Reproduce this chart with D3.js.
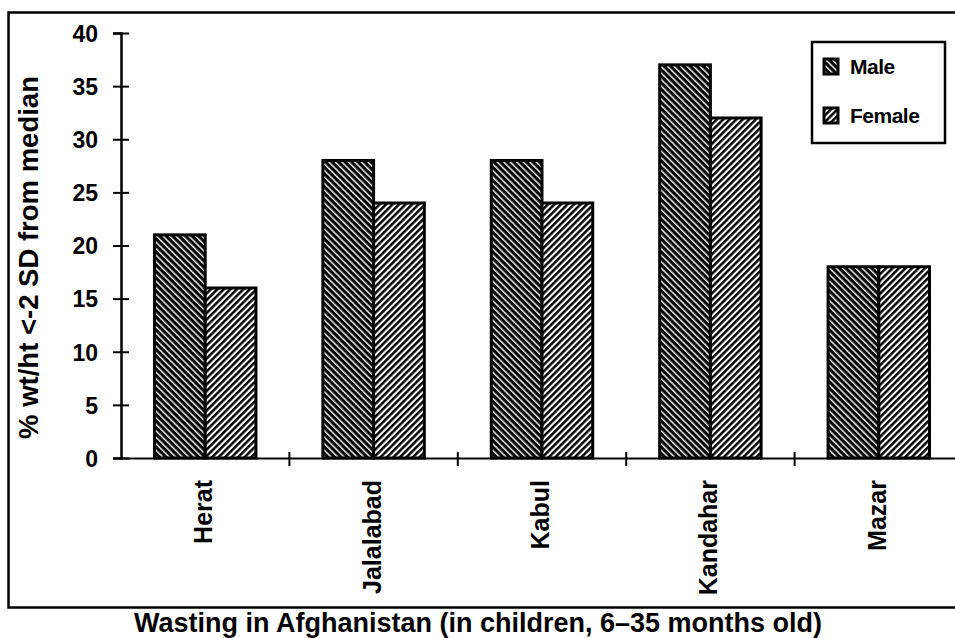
<!DOCTYPE html>
<html>
<head>
<meta charset="utf-8">
<script src="https://cdnjs.cloudflare.com/ajax/libs/d3/7.8.5/d3.min.js"></script>
<style>
  body { margin: 0; background: #fff; }
  svg text { font-family: "Liberation Sans", Arial, sans-serif; font-weight: bold; fill: #000; }
</style>
</head>
<body>
<script>
// Data
var cities = ["Herat", "Jalalabad", "Kabul", "Kandahar", "Mazar"];
var male = [21, 28, 28, 37, 18];
var female = [16, 24, 24, 32, 18];
var seriesNames = ["Male", "Female"];
var yTicks = [0, 5, 10, 15, 20, 25, 30, 35, 40];

var svgWidth = 955;
var svgHeight = 638;

var svg = d3.select("body")
  .append("svg")
  .attr("width", svgWidth)
  .attr("height", svgHeight);

// Hatch patterns: male = dark with white "\" lines, female = white with black "/" lines
var defs = svg.append("defs");
var pMale = defs.append("pattern")
  .attr("id", "hatchMale")
  .attr("patternUnits", "userSpaceOnUse")
  .attr("width", 4.6).attr("height", 4.6)
  .attr("patternTransform", "rotate(-45)");
pMale.append("rect").attr("width", 4.6).attr("height", 4.6).attr("fill", "#000");
pMale.append("rect").attr("x", 0).attr("width", 1.4).attr("height", 4.6).attr("fill", "#fff");

var pFemale = defs.append("pattern")
  .attr("id", "hatchFemale")
  .attr("patternUnits", "userSpaceOnUse")
  .attr("width", 4.6).attr("height", 4.6)
  .attr("patternTransform", "rotate(45)");
pFemale.append("rect").attr("width", 4.6).attr("height", 4.6).attr("fill", "#fff");
pFemale.append("rect").attr("x", 0).attr("width", 2.5).attr("height", 4.6).attr("fill", "#000");

// Outer frame
svg.append("rect")
  .attr("x", 8.5).attr("y", 12.5)
  .attr("width", 960).attr("height", 595)
  .attr("fill", "none")
  .attr("stroke", "#000")
  .attr("stroke-width", 2.5);

var x0 = 121, x1 = 963;
var yTop = 33, yBottom = 458;

var x = d3.scaleBand()
  .domain(cities)
  .range([x0, x1])
  .paddingInner(0)
  .paddingOuter(0);

var xSub = d3.scaleBand()
  .domain(seriesNames)
  .range([0, x.bandwidth()])
  .paddingInner(0)
  .paddingOuter(0.66);

var y = d3.scaleLinear()
  .domain([0, 40])
  .range([yBottom, yTop]);

var rows = cities.map(function(c, i) {
  return { city: c, values: [
    { key: "Male", value: male[i] },
    { key: "Female", value: female[i] }
  ] };
});

// Bars
var groups = svg.append("g").selectAll("g")
  .data(rows)
  .enter().append("g")
  .attr("transform", function(d) { return "translate(" + x(d.city) + ",0)"; });

groups.selectAll("rect")
  .data(function(d) { return d.values; })
  .enter().append("rect")
  .attr("x", function(d) { return xSub(d.key); })
  .attr("y", function(d) { return y(d.value); })
  .attr("width", xSub.bandwidth())
  .attr("height", function(d) { return yBottom - y(d.value); })
  .attr("fill", function(d) { return d.key === "Male" ? "url(#hatchMale)" : "url(#hatchFemale)"; })
  .attr("stroke", "#000")
  .attr("stroke-width", 3);

// Y axis
var leftAxis = d3.axisLeft(y)
  .tickValues(yTicks)
  .tickSize(8)
  .tickPadding(15);

var yAxisG = svg.append("g")
  .attr("transform", "translate(" + x0 + ",0)")
  .call(leftAxis);
yAxisG.select(".domain").attr("stroke", "#000").attr("stroke-width", 2.5);
yAxisG.selectAll(".tick line")
  .attr("x1", 8).attr("x2", -8)
  .attr("stroke", "#000").attr("stroke-width", 2);
yAxisG.selectAll(".tick text")
  .style("font-size", "23px")
  .attr("dy", "0.36em");

// X axis
var bottomAxis = d3.axisBottom(x).tickSize(0).tickFormat("");
var xAxisG = svg.append("g")
  .attr("transform", "translate(0," + yBottom + ")")
  .call(bottomAxis);
xAxisG.select(".domain").attr("stroke", "#000").attr("stroke-width", 2);
xAxisG.selectAll(".tick").remove();

// Category separators on the x axis
svg.append("g").selectAll("line")
  .data(cities.slice(1))
  .enter().append("line")
  .attr("x1", function(d) { return x(d); })
  .attr("x2", function(d) { return x(d); })
  .attr("y1", yBottom - 6)
  .attr("y2", yBottom + 8)
  .attr("stroke", "#000")
  .attr("stroke-width", 2);

// Rotated category labels
svg.append("g").selectAll("text")
  .data(cities)
  .enter().append("text")
  .attr("transform", function(d) {
    return "translate(" + (x(d) + x.bandwidth() / 2 + 7) + "," + 480 + ") rotate(-90)";
  })
  .attr("text-anchor", "end")
  .style("font-size", "25px")
  .text(function(d) { return d; });

// Y axis title
svg.append("text")
  .attr("transform", "translate(" + 38 + "," + ((yTop + yBottom) / 2 + 12) + ") rotate(-90)")
  .attr("text-anchor", "middle")
  .style("font-size", "27.5px")
  .text("% wt/ht <-2 SD from median");

// Legend
var legend = svg.append("g");
legend.append("rect")
  .attr("x", 812).attr("y", 42)
  .attr("width", 133).attr("height", 101)
  .attr("fill", "#fff")
  .attr("stroke", "#000")
  .attr("stroke-width", 2.5);

var legendItems = legend.selectAll("g")
  .data(seriesNames)
  .enter().append("g")
  .attr("transform", function(d, i) { return "translate(824," + (59 + i * 49) + ")"; });

legendItems.append("rect")
  .attr("width", 14).attr("height", 15)
  .attr("fill", function(d) { return d === "Male" ? "url(#hatchMale)" : "url(#hatchFemale)"; })
  .attr("stroke", "#000")
  .attr("stroke-width", 3);

legendItems.append("text")
  .attr("x", 26)
  .attr("y", 15)
  .style("font-size", "21px")
  .style("letter-spacing", "-0.5px")
  .text(function(d) { return d; });

// Chart title
svg.append("text")
  .attr("x", 478)
  .attr("y", 632)
  .attr("text-anchor", "middle")
  .style("font-size", "27px")
  .text("Wasting in Afghanistan (in children, 6\u201335 months old)");
</script>
</body>
</html>
